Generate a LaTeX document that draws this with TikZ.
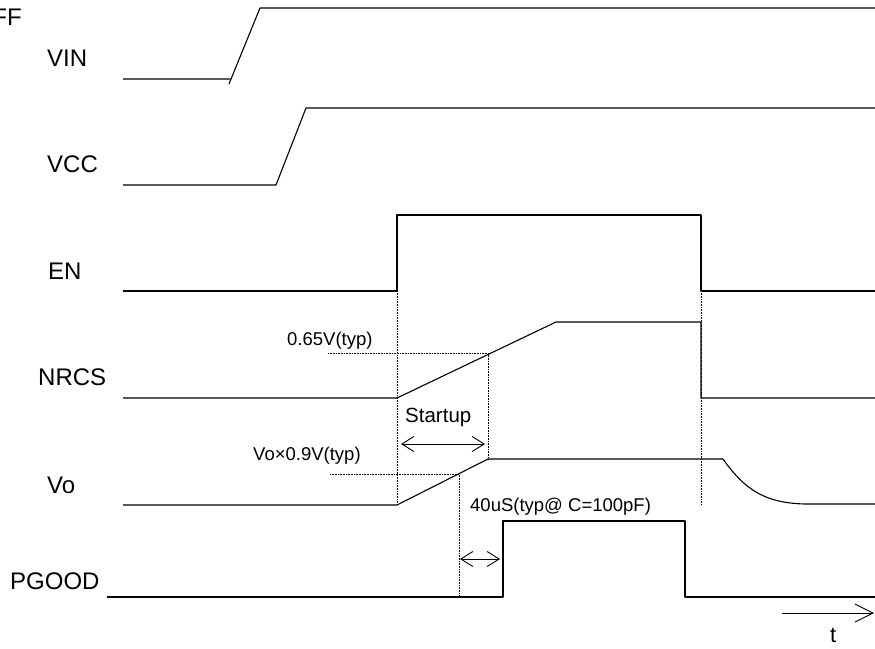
\documentclass[tikz,border=0pt]{standalone}
\usepackage{fontspec}
\setmainfont{Liberation Sans}
\usetikzlibrary{arrows.meta}
\tikzset{
  wave/.style={line width=1.1pt},
  guide/.style={densely dotted,line width=0.6pt},
  sig/.style={inner sep=0pt,anchor=base west,font=\fontsize{24}{28}\selectfont},
  note/.style={inner sep=0pt,anchor=base west,font=\fontsize{18.5}{22}\selectfont},
  span/.style={{Straight Barb[length=12pt,width=15pt]}-{Straight Barb[length=12pt,width=15pt]},line width=0.9pt},
  taxis/.style={-{Straight Barb[length=18pt,width=18pt]},line width=0.9pt},
}

\begin{document}
\begin{tikzpicture}[x=1pt,y=-1pt,line join=round]
\useasboundingbox (0,0) rectangle (875,648);
\path
(397,291) coordinate (EnUp)
(701,291) coordinate (EnDn)
(397,505) coordinate (VoSt)
(701,505) coordinate (VoOff)
(488,353) coordinate (Nr65)
(488,459) coordinate (VoHi)
(459,474) coordinate (Vo90)
(459,597) coordinate (PgLo)
(401,444) coordinate (S1)
(485,444) coordinate (S2)
(460,559) coordinate (D1)
(500,559) coordinate (D2)
(782,613) coordinate (T1)
(874,613) coordinate (T2)
;
% signal names
\node[sig,anchor=base east] (ff) at (22,25) {FF};
\foreach \n/\x/\y/\t in {vin/47/66/VIN, vcc/47/172/VCC, en/48/279/EN, nrcs/38/385/NRCS, vo/47/493/Vo, pgood/10/589/PGOOD}
\node[sig] (\n) at (\x,\y) {\t};
% waveforms
\draw[wave] (123,79)--(230,79) (229,84)--(260,8)--(875,8);
\draw[wave] (123,185)--(276,185)--(306,108)--(875,108);
\draw[wave] (123,291)--(EnUp)--(397,215)--(701,215)--(EnDn)--(875,291);
\draw[wave] (123,398)--(397,398)--(556,322)--(701,322)--(701,398)--(875,398);
\draw[wave] (123,505)--(VoSt)--(VoHi)--(723,459) .. controls (745,490) and (765,503) .. (805,504)--(875,504);
\draw[wave] (107,597)--(503,597)--(503,521)--(685,521)--(685,597)--(875,597);
% guides
\draw[guide] (EnUp)--(VoSt);
\draw[guide] (EnDn)--(VoOff);
\draw[guide] (328,353)--(Nr65)--(VoHi);
\draw[guide] (330,474)--(Vo90)--(PgLo);
\draw[span] (S1)--(S2);
\draw[span] (D1)--(D2);
\draw[taxis] (T1)--(T2);
% notes
\node[note] (th65) at (287,345) {0.65V(typ)};
\node[note] (th90) at (253,460) {Vo×0.9V(typ)};
\node[note,font=\fontsize{20.5}{24}\selectfont] (startup) at (405,422) {Startup};
\node[note] (delay) at (470,511) {40uS(typ@ C=100pF)};
\node[note,font=\fontsize{22}{26}\selectfont] (t) at (830,642) {t};
\end{tikzpicture}
\end{document}
